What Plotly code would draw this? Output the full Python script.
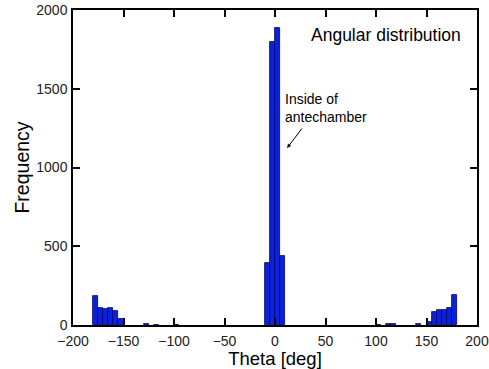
import plotly.graph_objects as go

# Histogram bins (5 deg wide), centers and counts
bin_centers = [-177.5, -172.5, -167.5, -162.5, -157.5, -152.5,
               -127.5, -117.5, -97.5,
               -7.5, -2.5, 2.5, 7.5,
               102.5, 112.5, 117.5, 142.5,
               152.5, 157.5, 162.5, 167.5, 172.5, 177.5]
counts = [182, 108, 100, 105, 90, 35,
          5, 3, 2,
          392, 1800, 1886, 435,
          3, 5, 4, 6,
          20, 85, 97, 96, 110, 190]
bin_width = 5

x_ticks = [-200, -150, -100, -50, 0, 50, 100, 150, 200]
y_ticks = [0, 500, 1000, 1500, 2000]

FONT = "Liberation Sans, Arial, sans-serif"

fig = go.Figure()
fig.add_trace(go.Bar(
    x=bin_centers, y=counts, width=[bin_width] * len(bin_centers),
    marker=dict(color="#0a22dc", line=dict(color="#000066", width=0.8)),
    showlegend=False,
))

axis_common = dict(
    showline=True, linecolor="black", linewidth=1.5, mirror="ticks",
    ticks="inside", ticklen=7, tickwidth=1.5, tickcolor="black",
    showgrid=False, zeroline=False, automargin=False,
    ticklabeloverflow="allow",
    tickfont=dict(family=FONT, size=14, color="#222"),
)

fig.update_xaxes(range=[-200, 200], tickvals=x_ticks, ticklabelstandoff=2, **axis_common,
                 title=dict(text="Theta [deg]", standoff=0,
                            font=dict(family=FONT, size=18.5, color="black")))
fig.update_yaxes(range=[0, 2000], tickvals=y_ticks, ticklabelstandoff=1, **axis_common,
                 title=dict(text="Frequency", standoff=1,
                            font=dict(family=FONT, size=19.5, color="black")))

fig.add_annotation(x=0.965, y=0.92, xref="paper", yref="paper", xanchor="right", yanchor="middle",
                   text="Angular distribution", showarrow=False,
                   font=dict(family=FONT, size=17.5, color="black"))
fig.add_annotation(x=12, y=1124, ax=16, ay=-21, xref="x", yref="y",
                   axref="pixel", ayref="pixel",
                   text="", showarrow=True, arrowhead=2, arrowsize=0.8, arrowwidth=1, arrowcolor="black")
fig.add_annotation(x=8, y=1380, xref="x", yref="y", xanchor="left", yanchor="middle",
                   text="Inside of<br>antechamber", showarrow=False, align="left",
                   font=dict(family=FONT, size=14, color="black"))

fig.update_layout(
    width=489, height=369,
    margin=dict(l=73, r=12, t=10, b=44),
    plot_bgcolor="white", paper_bgcolor="white",
    bargap=0,
)

fig.write_html("out.html")
